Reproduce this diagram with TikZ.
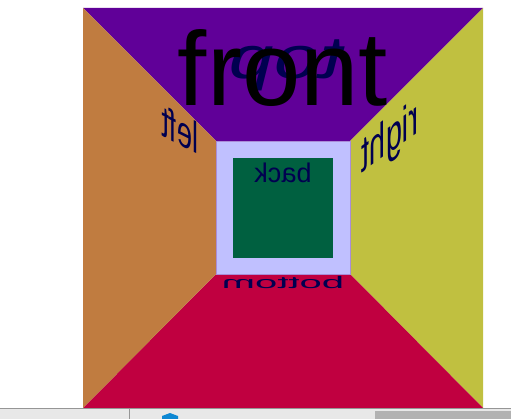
\documentclass[tikz,border=0pt]{standalone}
\usepackage{fontspec}
\setmainfont{Liberation Sans}
\usepackage{tikz}
\usetikzlibrary{positioning,calc}

\definecolor{topface}{RGB}{96,0,152}
\definecolor{leftface}{RGB}{192,124,64}
\definecolor{rightface}{RGB}{192,192,64}
\definecolor{bottomface}{RGB}{192,0,64}
\definecolor{backwall}{RGB}{192,192,255}
\definecolor{backface}{RGB}{0,96,64}
\definecolor{rimline}{RGB}{170,140,215}
\definecolor{inkblue}{RGB}{0,0,80}
\definecolor{barlight}{RGB}{232,232,232}
\definecolor{bardark}{RGB}{178,178,178}
\definecolor{barline}{RGB}{150,150,150}

\begin{document}
\begin{tikzpicture}[x=1pt, y=-1pt, word/.style={text=inkblue, inner sep=0pt, font=\fontsize{#1}{#1}\selectfont}]

\useasboundingbox (0,0) rectangle (511,419);

% corners of the box
\coordinate (o1) at (83,8);
\coordinate (o2) at (483,8);
\coordinate (o3) at (483,408);
\coordinate (o4) at (83,408);
\coordinate (i1) at (216,141);
\coordinate (i2) at (350,141);
\coordinate (i3) at (350,274);
\coordinate (i4) at (216,274);

\fill[topface] (o1) -- (o2) -- (i2) -- (i1) -- cycle;
\fill[rightface] (o2) -- (o3) -- (i3) -- (i2) -- cycle;
\fill[bottomface] (o3) -- (o4) -- (i4) -- (i3) -- cycle;
\fill[leftface] (o4) -- (o1) -- (i1) -- (i4) -- cycle;
\filldraw[fill=backwall, draw=rimline, line width=0.8pt] (i1) rectangle (i3);
\fill[backface] (233,158) rectangle (333,258);

% labels on the faces
\node[word=60, cm={-1.35,0,0.25,1,(0,0)}, anchor=base] (toplbl) at (282,79) {top};
\node[word=27, xscale=-1, anchor=base] (backlbl) at (283,183) {back};
\node[word=40, cm={-1,0,0,0.42,(0,0)}, anchor=base] (bottomlbl) at (283,289) {bottom};
\node[word=44, cm={-0.62,0.31,0,1,(0,0)}, anchor=base] (leftlbl) at (180,145) {left};
\node[word=50, cm={-0.58,-0.42,0,1,(0,0)}, anchor=base] (rightlbl) at (390,153) {right};
\node[word=105, text=black, anchor=base] (frontlbl) at (283,106) {front};

% task bar
\fill[barlight] (0,408) rectangle (511,419);
\draw[barline] (0,408.5) -- (511,408.5);
\draw[barline] (129.5,408) -- (129.5,419);
\fill[bardark] (375,411) rectangle (511,419);
\fill[cyan!70!blue] (162,416) -- (170,413) -- (178,416) -- (178,419) -- (162,419) -- cycle;
\end{tikzpicture}
\end{document}
